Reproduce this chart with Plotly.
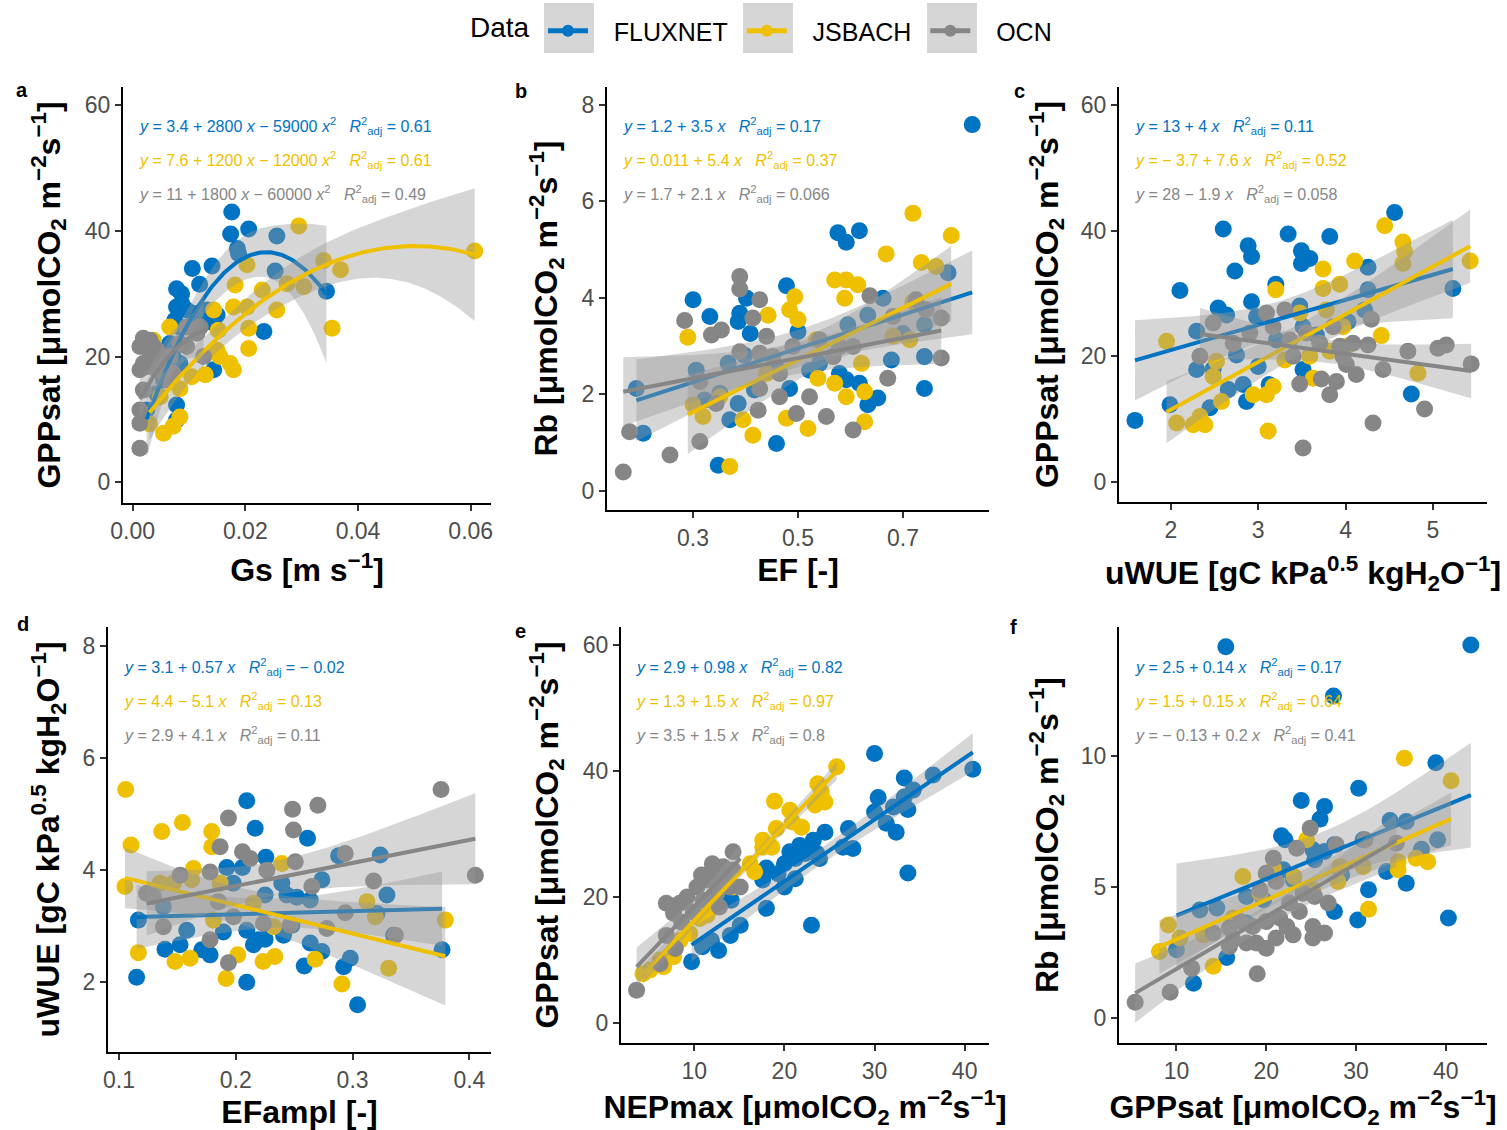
import numpy as np
import plotly.graph_objects as go

W, H = 1507, 1130
SERIES = ["FLUXNET", "JSBACH", "OCN"]
COLORS = ["#0073C2", "#EFC000", "#868686"]
RIBBON = "rgba(153,153,153,0.4)"
FONT = "Liberation Sans"

# ---------------- panel a : Gs vs GPPsat ----------------
a_flux_x = [0.0176, 0.0174, 0.0206, 0.0256, 0.0186, 0.0188, 0.0106, 0.0141, 0.0119, 0.0078, 0.0087, 0.0078, 0.0087,
            0.0096, 0.0108, 0.0075, 0.0150, 0.0144, 0.0084, 0.0120, 0.0253, 0.0344, 0.0233, 0.0066, 0.0072, 0.0084,
            0.0144, 0.0078, 0.0078, 0.0025, 0.0055, 0.0043, 0.0132]
a_flux_y = [43.0, 39.5, 40.3, 39.2, 37.2, 36.4, 34.0, 34.4, 31.5, 30.8, 30.0, 27.9, 28.5,
            27.4, 26.9, 25.8, 26.6, 25.3, 24.7, 25.8, 33.6, 30.4, 24.0, 22.1, 20.0, 18.9,
            17.9, 12.3, 9.9, 11.5, 16.3, 14.1, 27.4]
a_jsb_x = [0.0295, 0.0607, 0.0339, 0.0369, 0.0304, 0.0230, 0.0182, 0.0203, 0.0179, 0.0203, 0.0256, 0.0206, 0.0206,
           0.0354, 0.0155, 0.0150, 0.0179, 0.0173, 0.0129, 0.0105, 0.0084, 0.0049, 0.0030, 0.0055, 0.0072, 0.0084,
           0.0066, 0.0144, 0.0152, 0.0274, 0.0037]
a_jsb_y = [40.8, 36.8, 35.3, 33.8, 31.1, 30.6, 31.4, 34.6, 27.9, 27.9, 27.4, 24.5, 21.3,
           24.5, 20.0, 21.0, 17.9, 18.9, 17.1, 16.8, 14.9, 13.6, 9.3, 7.8, 8.9, 10.4,
           24.7, 27.4, 24.2, 31.6, 22.6]
a_ocn_x = [0.0013, 0.0013, 0.0013, 0.0013, 0.0025, 0.0037, 0.0019, 0.0031, 0.0043, 0.0025, 0.0043, 0.0019, 0.0061,
           0.0072, 0.0096, 0.0114, 0.0126, 0.0031, 0.0019, 0.0049, 0.0120, 0.0096, 0.0066, 0.0013, 0.0084]
a_ocn_y = [5.4, 9.4, 11.5, 21.6, 22.1, 21.6, 18.9, 20.0, 21.0, 18.4, 17.9, 14.7, 16.3,
           17.3, 21.6, 23.7, 20.0, 22.6, 22.9, 19.4, 24.7, 24.7, 20.0, 17.9, 22.1]
a_coef = [[3.4, 2800, -59000], [7.6, 1200, -12000], [11, 1800, -60000]]
a_eq = ["<i>y</i> = 3.4 + 2800 <i>x</i> − 59000 <i>x</i><sup>2</sup>", "<i>y</i> = 7.6 + 1200 <i>x</i> − 12000 <i>x</i><sup>2</sup>",
        "<i>y</i> = 11 + 1800 <i>x</i> − 60000 <i>x</i><sup>2</sup>"]
a_r2 = ["0.61", "0.61", "0.49"]

# ---------------- panel b : EF vs Rb ----------------
b_flux_x = [0.832, 0.576, 0.592, 0.617, 0.478, 0.300, 0.332, 0.402, 0.389, 0.386, 0.409, 0.500, 0.662, 0.786, 0.741,
            0.700, 0.633, 0.595, 0.678, 0.741, 0.741, 0.579, 0.592, 0.617, 0.633, 0.652, 0.522, 0.541, 0.484, 0.462,
            0.367, 0.306, 0.322, 0.351, 0.386, 0.370, 0.417, 0.398, 0.192, 0.205, 0.348, 0.459]
b_flux_y = [7.59, 5.35, 5.15, 5.39, 4.25, 3.96, 3.61, 3.99, 3.68, 3.51, 3.26, 3.30, 3.99, 4.52, 3.44,
            3.26, 3.64, 3.44, 2.71, 2.78, 2.12, 2.43, 2.30, 2.23, 1.78, 1.92, 2.50, 2.64, 2.12, 2.50,
            2.64, 2.50, 1.88, 2.02, 1.81, 1.47, 2.09, 2.81, 2.12, 1.19, 0.53, 0.98]
b_jsb_x = [0.719, 0.792, 0.668, 0.735, 0.763, 0.570, 0.592, 0.614, 0.589, 0.494, 0.484, 0.500, 0.443, 0.290, 0.719,
           0.681, 0.713, 0.570, 0.538, 0.592, 0.627, 0.627, 0.621, 0.519, 0.478, 0.395, 0.414, 0.370, 0.319, 0.300,
           0.351, 0.440, 0.535]
b_jsb_y = [5.75, 5.29, 4.91, 4.73, 4.65, 4.37, 4.37, 4.27, 3.99, 4.02, 3.75, 3.55, 3.64, 3.18, 3.92,
           3.20, 3.13, 2.23, 2.33, 1.95, 2.05, 1.43, 2.64, 1.29, 1.50, 1.47, 1.15, 0.50, 1.54, 1.78,
           1.95, 2.43, 3.13]
b_ocn_x = [0.167, 0.179, 0.256, 0.313, 0.424, 0.465, 0.497, 0.522, 0.554, 0.605, 0.671, 0.773, 0.773, 0.637, 0.284,
           0.335, 0.354, 0.389, 0.389, 0.427, 0.414, 0.440, 0.389, 0.427, 0.452, 0.313, 0.344, 0.427, 0.465, 0.541,
           0.605, 0.579, 0.725, 0.744, 0.681, 0.567, 0.490]
b_ocn_y = [0.39, 1.22, 0.74, 1.02, 1.67, 1.95, 1.60, 1.95, 1.54, 1.26, 2.33, 2.75, 3.58, 4.04, 3.53,
           3.23, 3.33, 4.44, 4.18, 3.96, 3.58, 3.20, 2.88, 2.85, 2.78, 2.26, 1.81, 2.12, 2.43, 3.13,
           2.99, 2.99, 3.96, 3.75, 3.61, 2.78, 2.99]
b_coef = [[1.2, 3.5], [0.011, 5.4], [1.7, 2.1]]
b_eq = ["<i>y</i> = 1.2 + 3.5 <i>x</i>", "<i>y</i> = 0.011 + 5.4 <i>x</i>", "<i>y</i> = 1.7 + 2.1 <i>x</i>"]
b_r2 = ["0.17", "0.37", "0.066"]

# ---------------- panel c : uWUE vs GPPsat ----------------
c_flux_x = [4.562, 2.599, 3.342, 3.819, 2.884, 2.923, 3.494, 3.590, 3.494, 2.732, 4.257, 2.103, 3.201, 5.229, 4.257,
            2.541, 2.637, 2.923, 2.980, 3.475, 4.219, 4.028, 2.294, 3.513, 3.209, 3.666, 2.751, 2.294, 2.484, 2.999,
            3.513, 2.656, 2.827, 3.125, 2.865, 2.446, 1.989, 1.588, 4.753]
c_flux_y = [42.9, 40.3, 39.5, 39.1, 37.6, 35.9, 36.8, 35.6, 34.8, 33.6, 34.2, 30.5, 31.5, 30.8, 30.6,
            27.7, 26.6, 28.7, 26.3, 28.0, 27.4, 25.5, 24.0, 24.7, 22.6, 23.4, 20.2, 17.9, 18.0, 18.4,
            17.9, 14.7, 15.5, 15.5, 12.8, 11.8, 12.3, 9.8, 14.0]
c_jsb_x = [4.448, 4.657, 4.676, 4.104, 5.427, 4.657, 3.742, 3.742, 3.933, 3.201, 4.409, 1.950, 4.829, 3.113, 2.065,
           2.255, 2.389, 2.332, 2.579, 2.942, 3.094, 3.170, 2.522, 2.484, 3.304, 3.590, 3.628, 3.819, 3.971, 3.780,
           3.475, 4.009]
c_jsb_y = [40.8, 38.2, 36.7, 35.2, 35.2, 34.8, 33.9, 30.8, 31.5, 30.6, 23.3, 22.4, 17.3, 8.1, 9.4,
           9.1, 9.1, 10.4, 12.8, 13.9, 13.9, 15.2, 19.2, 16.8, 19.4, 20.0, 16.5, 20.8, 24.7, 27.4,
           26.9, 21.6]
c_ocn_x = [3.513, 4.314, 4.905, 3.819, 3.475, 3.723, 3.895, 4.123, 4.429, 5.439, 4.714, 5.058, 5.153, 4.257, 4.085,
           3.933, 4.009, 4.295, 2.332, 2.484, 3.094, 3.304, 3.170, 3.361, 3.399, 3.551, 3.704, 2.713, 2.904, 3.857,
           3.971]
c_ocn_y = [5.4, 9.4, 11.6, 13.9, 15.6, 16.4, 16.0, 17.1, 17.9, 18.8, 20.8, 21.3, 21.8, 21.8, 22.1,
           21.6, 18.7, 25.9, 20.0, 25.3, 26.9, 27.4, 24.7, 22.6, 20.0, 23.7, 22.1, 22.1, 23.7, 24.7,
           20.0]
c_coef = [[13, 4], [-3.7, 7.6], [28, -1.9]]
c_eq = ["<i>y</i> = 13 + 4 <i>x</i>", "<i>y</i> = − 3.7 + 7.6 <i>x</i>", "<i>y</i> = 28 − 1.9 <i>x</i>"]
c_r2 = ["0.11", "0.52", "0.058"]

# ---------------- panel d : EFampl vs uWUE ----------------
d_flux_x = [0.2094, 0.2166, 0.2614, 0.2257, 0.1923, 0.2057, 0.2880, 0.3237, 0.2737, 0.2394, 0.3294, 0.2437, 0.2523,
            0.2637, 0.2251, 0.1977, 0.3209, 0.1166, 0.1380, 0.1580, 0.1894, 0.2094, 0.2480, 0.3351, 0.1394, 0.1523,
            0.1709, 0.1780, 0.2151, 0.2194, 0.2251, 0.2409, 0.2637, 0.2737, 0.2586, 0.2923, 0.2980, 0.3766, 0.1151,
            0.2094, 0.3043]
d_flux_y = [5.24, 4.75, 4.57, 4.23, 4.05, 4.05, 4.26, 4.27, 3.83, 3.77, 3.56, 3.56, 3.52,
            3.47, 3.56, 3.77, 3.23, 3.11, 3.35, 2.93, 2.90, 2.93, 3.02, 2.84, 2.59, 2.67,
            2.58, 2.49, 2.67, 2.76, 2.77, 2.84, 2.70, 2.55, 2.29, 2.28, 2.43, 2.58, 2.09,
            2.00, 1.60]
d_jsb_x = [0.1057, 0.1103, 0.1366, 0.1543, 0.1794, 0.1794, 0.1637, 0.1051, 0.1351, 0.1466, 0.1623, 0.1866, 0.2394,
           0.1166, 0.1480, 0.1609, 0.1917, 0.2017, 0.2234, 0.2334, 0.2680, 0.2909, 0.3123, 0.3194, 0.3794, 0.3309,
           0.2323, 0.1809, 0.2151]
d_jsb_y = [5.44, 4.45, 4.69, 4.85, 4.69, 4.42, 4.03, 3.71, 3.77, 3.77, 3.83, 3.77, 4.12,
           2.53, 2.37, 2.43, 2.07, 2.49, 2.37, 2.46, 2.41, 1.97, 3.44, 3.17, 3.11, 2.25,
           2.99, 3.11, 3.41]
d_ocn_x = [0.3757, 0.2703, 0.2486, 0.1937, 0.2494, 0.1866, 0.2057, 0.2123, 0.2509, 0.2937, 0.1780, 0.1523, 0.2266,
           0.4051, 0.3180, 0.2651, 0.1237, 0.1294, 0.1851, 0.2937, 0.2780, 0.2466, 0.1380, 0.2237, 0.1980, 0.1780,
           0.1937, 0.3366]
d_ocn_y = [5.44, 5.16, 5.09, 4.93, 4.72, 4.42, 4.33, 4.21, 4.15, 4.30, 3.97, 3.91, 4.00,
           3.91, 3.81, 3.71, 3.59, 3.53, 3.44, 3.24, 2.96, 3.02, 2.99, 3.05, 3.17, 2.76,
           2.35, 2.84]
d_coef = [[3.1, 0.57], [4.4, -5.1], [2.9, 4.1]]
d_eq = ["<i>y</i> = 3.1 + 0.57 <i>x</i>", "<i>y</i> = 4.4 − 5.1 <i>x</i>", "<i>y</i> = 2.9 + 4.1 <i>x</i>"]
d_r2 = ["− 0.02", "0.13", "0.11"]

# ---------------- panel e : NEPmax vs GPPsat ----------------
e_flux_x = [30.0, 40.9, 36.5, 33.3, 30.4, 34.3, 33.3, 33.7, 30.0, 32.1, 31.3, 32.4, 27.1, 24.5, 27.6, 26.5, 23.2, 21.7,
            20.6, 20.0, 21.2, 23.9, 22.3, 33.7, 18.0, 17.6, 20.0, 21.2, 18.0, 23.0, 14.1, 15.1, 14.0, 11.9, 10.9, 12.7,
            9.7, 19.3, 23.6]
e_flux_y = [42.8, 40.3, 39.4, 38.9, 35.8, 37.0, 35.9, 33.9, 33.5, 34.3, 31.7, 30.3, 30.9, 30.3, 27.7, 27.9, 29.0, 28.2,
            27.2, 25.3, 26.1, 26.1, 26.9, 23.8, 24.6, 22.7, 21.6, 22.9, 18.2, 15.5, 19.5, 15.5, 13.9, 13.1, 12.1, 11.5,
            9.7, 23.7, 26.9]
e_jsb_x = [25.8, 23.7, 24.1, 24.5, 23.4, 18.9, 20.6, 20.9, 21.9, 19.1, 17.6, 17.6, 18.6, 16.2, 16.7, 14.3, 12.5, 11.4,
           10.6, 9.5, 8.4, 6.2, 6.6, 4.3, 5.1, 7.7]
e_jsb_y = [40.7, 38.0, 36.7, 35.1, 34.6, 35.2, 33.8, 31.9, 31.1, 30.9, 29.0, 27.9, 27.9, 25.3, 24.0, 21.6, 18.4, 17.1,
           16.6, 14.2, 13.1, 10.0, 8.9, 7.8, 8.4, 10.5]
e_ocn_x = [3.6, 14.3, 12.0, 13.2, 10.8, 12.1, 14.3, 15.1, 13.9, 10.3, 6.9, 8.4, 7.7, 8.6, 9.2, 11.0, 12.5, 12.8, 9.9,
           6.9, 7.9, 6.2, 11.4, 13.4]
e_ocn_y = [5.2, 27.2, 25.3, 24.8, 23.5, 23.2, 24.3, 21.6, 21.6, 21.6, 19.0, 19.0, 17.4, 16.0, 20.0, 19.5, 20.6, 18.4,
           17.6, 13.9, 11.8, 9.4, 22.7, 22.4]
e_coef = [[2.9, 0.98], [1.3, 1.5], [3.5, 1.5]]
e_eq = ["<i>y</i> = 2.9 + 0.98 <i>x</i>", "<i>y</i> = 1.3 + 1.5 <i>x</i>", "<i>y</i> = 3.5 + 1.5 <i>x</i>"]
e_r2 = ["0.82", "0.97", "0.8"]

# ---------------- panel f : GPPsat vs Rb ----------------
f_flux_x = [15.5, 42.8, 27.5, 38.9, 30.3, 23.9, 26.5, 26.0, 21.7, 22.1, 33.8, 35.6, 27.6, 30.8, 39.1, 37.3, 25.2, 26.5,
            28.4, 33.4, 35.6, 31.4, 27.6, 30.2, 40.3, 23.0, 17.8, 19.7, 12.6, 14.5, 17.8, 10.0, 15.6, 11.9, 21.9, 25.4]
f_flux_y = [14.15, 14.21, 12.27, 9.73, 8.76, 8.29, 8.06, 7.58, 6.95, 6.79, 7.53, 7.49, 6.60, 6.79, 6.79, 6.43, 6.41,
            6.35, 5.46, 5.58, 5.14, 4.89, 4.06, 3.74, 3.81, 5.27, 4.63, 4.51, 4.12, 4.19, 3.62, 2.60, 2.31, 1.33,
            5.65, 6.03]
f_jsb_x = [35.4, 40.6, 24.5, 36.7, 38.0, 34.7, 34.7, 30.8, 20.8, 17.4, 28.0, 31.4, 9.1, 8.1, 14.1, 13.0, 10.4, 16.3,
           19.3, 23.1, 25.2, 28.2]
f_jsb_y = [9.90, 9.04, 6.79, 6.09, 5.96, 5.96, 5.65, 5.77, 5.71, 5.39, 5.20, 4.15, 3.55, 2.54, 1.97, 3.17, 3.05, 3.81,
           4.76, 5.39, 4.89, 5.77]
f_ocn_x = [5.4, 9.3, 11.7, 19.0, 24.9, 23.4, 20.8, 27.8, 34.5, 31.0, 20.0, 21.1, 19.3, 24.1, 25.4, 26.9, 22.6, 23.7,
           21.5, 20.0, 18.5, 15.9, 14.1, 16.3, 18.9, 20.0, 21.1, 23.0, 25.2, 26.5, 25.2, 22.3, 17.8, 17.1, 15.9]
f_ocn_y = [0.60, 0.98, 1.90, 1.69, 7.23, 6.47, 6.09, 6.60, 6.66, 6.79, 5.52, 5.20, 4.89, 4.76, 4.63, 4.38, 4.38, 4.06,
           3.81, 3.68, 3.49, 3.43, 3.24, 2.98, 2.86, 2.66, 3.05, 3.17, 3.05, 3.24, 3.49, 3.49, 2.86, 3.68, 2.73]
f_coef = [[2.5, 0.14], [1.5, 0.15], [-0.13, 0.2]]
f_eq = ["<i>y</i> = 2.5 + 0.14 <i>x</i>", "<i>y</i> = 1.5 + 0.15 <i>x</i>", "<i>y</i> = − 0.13 + 0.2 <i>x</i>"]
f_r2 = ["0.17", "0.64", "0.41"]

# ---------------- axes: ranges, ticks, titles ----------------
UNIT = "μmolCO<sub>2</sub> m<sup>−2</sup>s<sup>−1</sup>"
WUE_UNIT = "gC kPa<sup>0.5</sup> kgH<sub>2</sub>O<sup>−1</sup>"
x_titles = ["Gs [m s<sup>−1</sup>]", "EF [-]", "uWUE [" + WUE_UNIT + "]", "EFampl [-]",
            "NEPmax [" + UNIT + "]", "GPPsat [" + UNIT + "]"]
y_titles = ["GPPsat [" + UNIT + "]", "Rb [" + UNIT + "]", "GPPsat [" + UNIT + "]",
            "uWUE [" + WUE_UNIT + "]", "GPPsat [" + UNIT + "]", "Rb [" + UNIT + "]"]
x_ranges = [[-0.0017, 0.0636], [0.136, 0.864], [1.405, 5.62], [0.0906, 0.4185], [1.87, 42.7], [3.6, 44.6]]
y_ranges = [[-3.3, 62.9], [-0.40, 8.37], [-3.2, 62.9], [0.757, 8.34], [-3.2, 62.9], [-0.95, 14.9]]
x_ticks = [[0, 0.02, 0.04, 0.06], [0.3, 0.5, 0.7], [2, 3, 4, 5], [0.1, 0.2, 0.3, 0.4], [10, 20, 30, 40], [10, 20, 30, 40]]
x_ticktext = [["0.00", "0.02", "0.04", "0.06"], ["0.3", "0.5", "0.7"], ["2", "3", "4", "5"],
              ["0.1", "0.2", "0.3", "0.4"], ["10", "20", "30", "40"], ["10", "20", "30", "40"]]
y_ticks = [[0, 20, 40, 60], [0, 2, 4, 6, 8], [0, 20, 40, 60], [2, 4, 6, 8], [0, 20, 40, 60], [0, 5, 10]]
panel_letters = ["a", "b", "c", "d", "e", "f"]

# layout geometry in pixels (left, right, top, bottom) of each panel
geom = [(123, 491, 87, 503), (607, 989, 87, 510), (1119, 1487, 87, 502),
        (108, 491, 627, 1052), (621, 989, 627, 1043), (1119, 1487, 627, 1043)]
eq_pos = [(137, 126), (621, 126), (1133, 126), (122, 667), (634, 667), (1133, 667)]
letter_pos = [(22, 90), (521, 91), (1019, 91), (23, 624), (520, 631), (1013, 627)]
x_standoff = [16, 9, 20, 22, 13, 20]
y_standoff = [15, 14, 13, 13, 15, 13]

panels = [
    ((a_flux_x, a_flux_y), (a_jsb_x, a_jsb_y), (a_ocn_x, a_ocn_y), a_coef, a_eq, a_r2),
    ((b_flux_x, b_flux_y), (b_jsb_x, b_jsb_y), (b_ocn_x, b_ocn_y), b_coef, b_eq, b_r2),
    ((c_flux_x, c_flux_y), (c_jsb_x, c_jsb_y), (c_ocn_x, c_ocn_y), c_coef, c_eq, c_r2),
    ((d_flux_x, d_flux_y), (d_jsb_x, d_jsb_y), (d_ocn_x, d_ocn_y), d_coef, d_eq, d_r2),
    ((e_flux_x, e_flux_y), (e_jsb_x, e_jsb_y), (e_ocn_x, e_ocn_y), e_coef, e_eq, e_r2),
    ((f_flux_x, f_flux_y), (f_jsb_x, f_jsb_y), (f_ocn_x, f_ocn_y), f_coef, f_eq, f_r2),
]


def fit_band(x, y, coef, n=100, t=2.03):
    x = np.asarray(x, float)
    y = np.asarray(y, float)
    b = np.asarray(coef, float)
    p = len(b)
    X = np.vander(x, p, increasing=True)
    resid = y - X @ b
    s2 = resid @ resid / (len(x) - p)
    cov = s2 * np.linalg.inv(X.T @ X)
    xs = np.linspace(x.min(), x.max(), n)
    Xs = np.vander(xs, p, increasing=True)
    ys = Xs @ b
    se = np.sqrt(np.einsum("ij,jk,ik->i", Xs, cov, Xs))
    return xs, ys, ys - t * se, ys + t * se


fig = go.Figure()
annotations = []
layout = {}

for i, (sf, sj, so, coefs, eqs, r2s) in enumerate(panels):
    k = i + 1
    xref = "x" if k == 1 else f"x{k}"
    yref = "y" if k == 1 else f"y{k}"
    data = [sf, sj, so]
    # points
    for s, (xv, yv) in enumerate(data):
        fig.add_trace(go.Scatter(x=xv, y=yv, mode="markers", xaxis=xref, yaxis=yref,
                                 marker=dict(size=17, color=COLORS[s], line=dict(width=0)),
                                 name=SERIES[s], legendgroup=SERIES[s], showlegend=False,
                                 hoverinfo="skip"))
    # ribbons + fit lines
    for s, (xv, yv) in enumerate(data):
        xs, ys, lo, hi = fit_band(xv, yv, coefs[s])
        fig.add_trace(go.Scatter(x=np.concatenate([xs, xs[::-1]]), y=np.concatenate([hi, lo[::-1]]),
                                 fill="toself", fillcolor=RIBBON, line=dict(width=0), mode="lines",
                                 xaxis=xref, yaxis=yref, showlegend=False, hoverinfo="skip"))
        fig.add_trace(go.Scatter(x=xs, y=ys, mode="lines", line=dict(color=COLORS[s], width=4),
                                 xaxis=xref, yaxis=yref, showlegend=False, hoverinfo="skip"))
    # axes
    l, r, t, b = geom[i]
    axis_common = dict(showline=True, linecolor="black", linewidth=2, showgrid=False, zeroline=False,
                       ticks="outside", ticklen=6, tickwidth=1.5, tickcolor="#333333", automargin=False,
                       tickfont=dict(size=23, color="#4D4D4D", family=FONT))
    layout["xaxis" if k == 1 else f"xaxis{k}"] = dict(
        axis_common, domain=[l / W, r / W], anchor=yref, range=x_ranges[i],
        tickvals=x_ticks[i], ticktext=x_ticktext[i],
        title=dict(text="<b>" + x_titles[i] + "</b>", font=dict(size=32, color="black", family=FONT),
                   standoff=x_standoff[i]))
    layout["yaxis" if k == 1 else f"yaxis{k}"] = dict(
        axis_common, domain=[1 - b / H, 1 - t / H], anchor=xref, range=y_ranges[i],
        tickvals=y_ticks[i],
        title=dict(text="<b>" + y_titles[i] + "</b>", font=dict(size=32, color="black", family=FONT),
                   standoff=y_standoff[i]))
    # equation labels
    ex, ey = eq_pos[i]
    for s in range(3):
        txt = eqs[s] + "\u00a0\u00a0\u00a0<i>R</i><sup>2</sup><sub>adj</sub> = " + r2s[s]
        annotations.append(dict(x=ex / W, y=1 - (ey + 34 * s) / H, xref="paper", yref="paper",
                                text=txt, showarrow=False, xanchor="left", yanchor="middle",
                                font=dict(size=16, color=COLORS[s], family=FONT)))
    lx, ly = letter_pos[i]
    annotations.append(dict(x=lx / W, y=1 - ly / H, xref="paper", yref="paper",
                            text="<b>" + panel_letters[i] + "</b>", showarrow=False,
                            xanchor="center", yanchor="middle", font=dict(size=20, color="black", family=FONT)))

# legend title
annotations.append(dict(x=468 / W, y=1 - 28 / H, xref="paper", yref="paper", text="Data", showarrow=False,
                        xanchor="left", yanchor="middle", font=dict(size=28, color="black", family=FONT)))

# legend entries
for s in range(3):
    fig.add_trace(go.Scatter(x=[None], y=[None], mode="lines+markers",
                             name="\u00a0\u00a0\u00a0" + SERIES[s] + "\u00a0\u200a",
                             line=dict(color=COLORS[s], width=6), marker=dict(size=15, color=COLORS[s]),
                             showlegend=True, legendgroup=SERIES[s]))

shapes = []
for x0, x1 in ((544, 594), (743, 793), (927, 977)):
    shapes.append(dict(type="rect", xref="paper", yref="paper", x0=x0 / W, x1=x1 / W,
                       y0=1 - 53 / H, y1=1 - 3 / H, fillcolor=RIBBON, line=dict(width=0), layer="below"))

fig.update_layout(
    template="none",
    width=W, height=H, margin=dict(l=0, r=0, t=0, b=0, autoexpand=False),
    paper_bgcolor="white", plot_bgcolor="white",
    font=dict(family=FONT, color="black"),
    annotations=annotations, shapes=shapes,
    legend=dict(orientation="h", x=543 / W, xanchor="left", y=1 - 8 / H, yanchor="top",
                font=dict(size=25, color="black", family=FONT), bgcolor="rgba(0,0,0,0)",
                itemwidth=40, itemsizing="constant", borderwidth=0),
    **layout,
)

fig.write_html("out.html")
